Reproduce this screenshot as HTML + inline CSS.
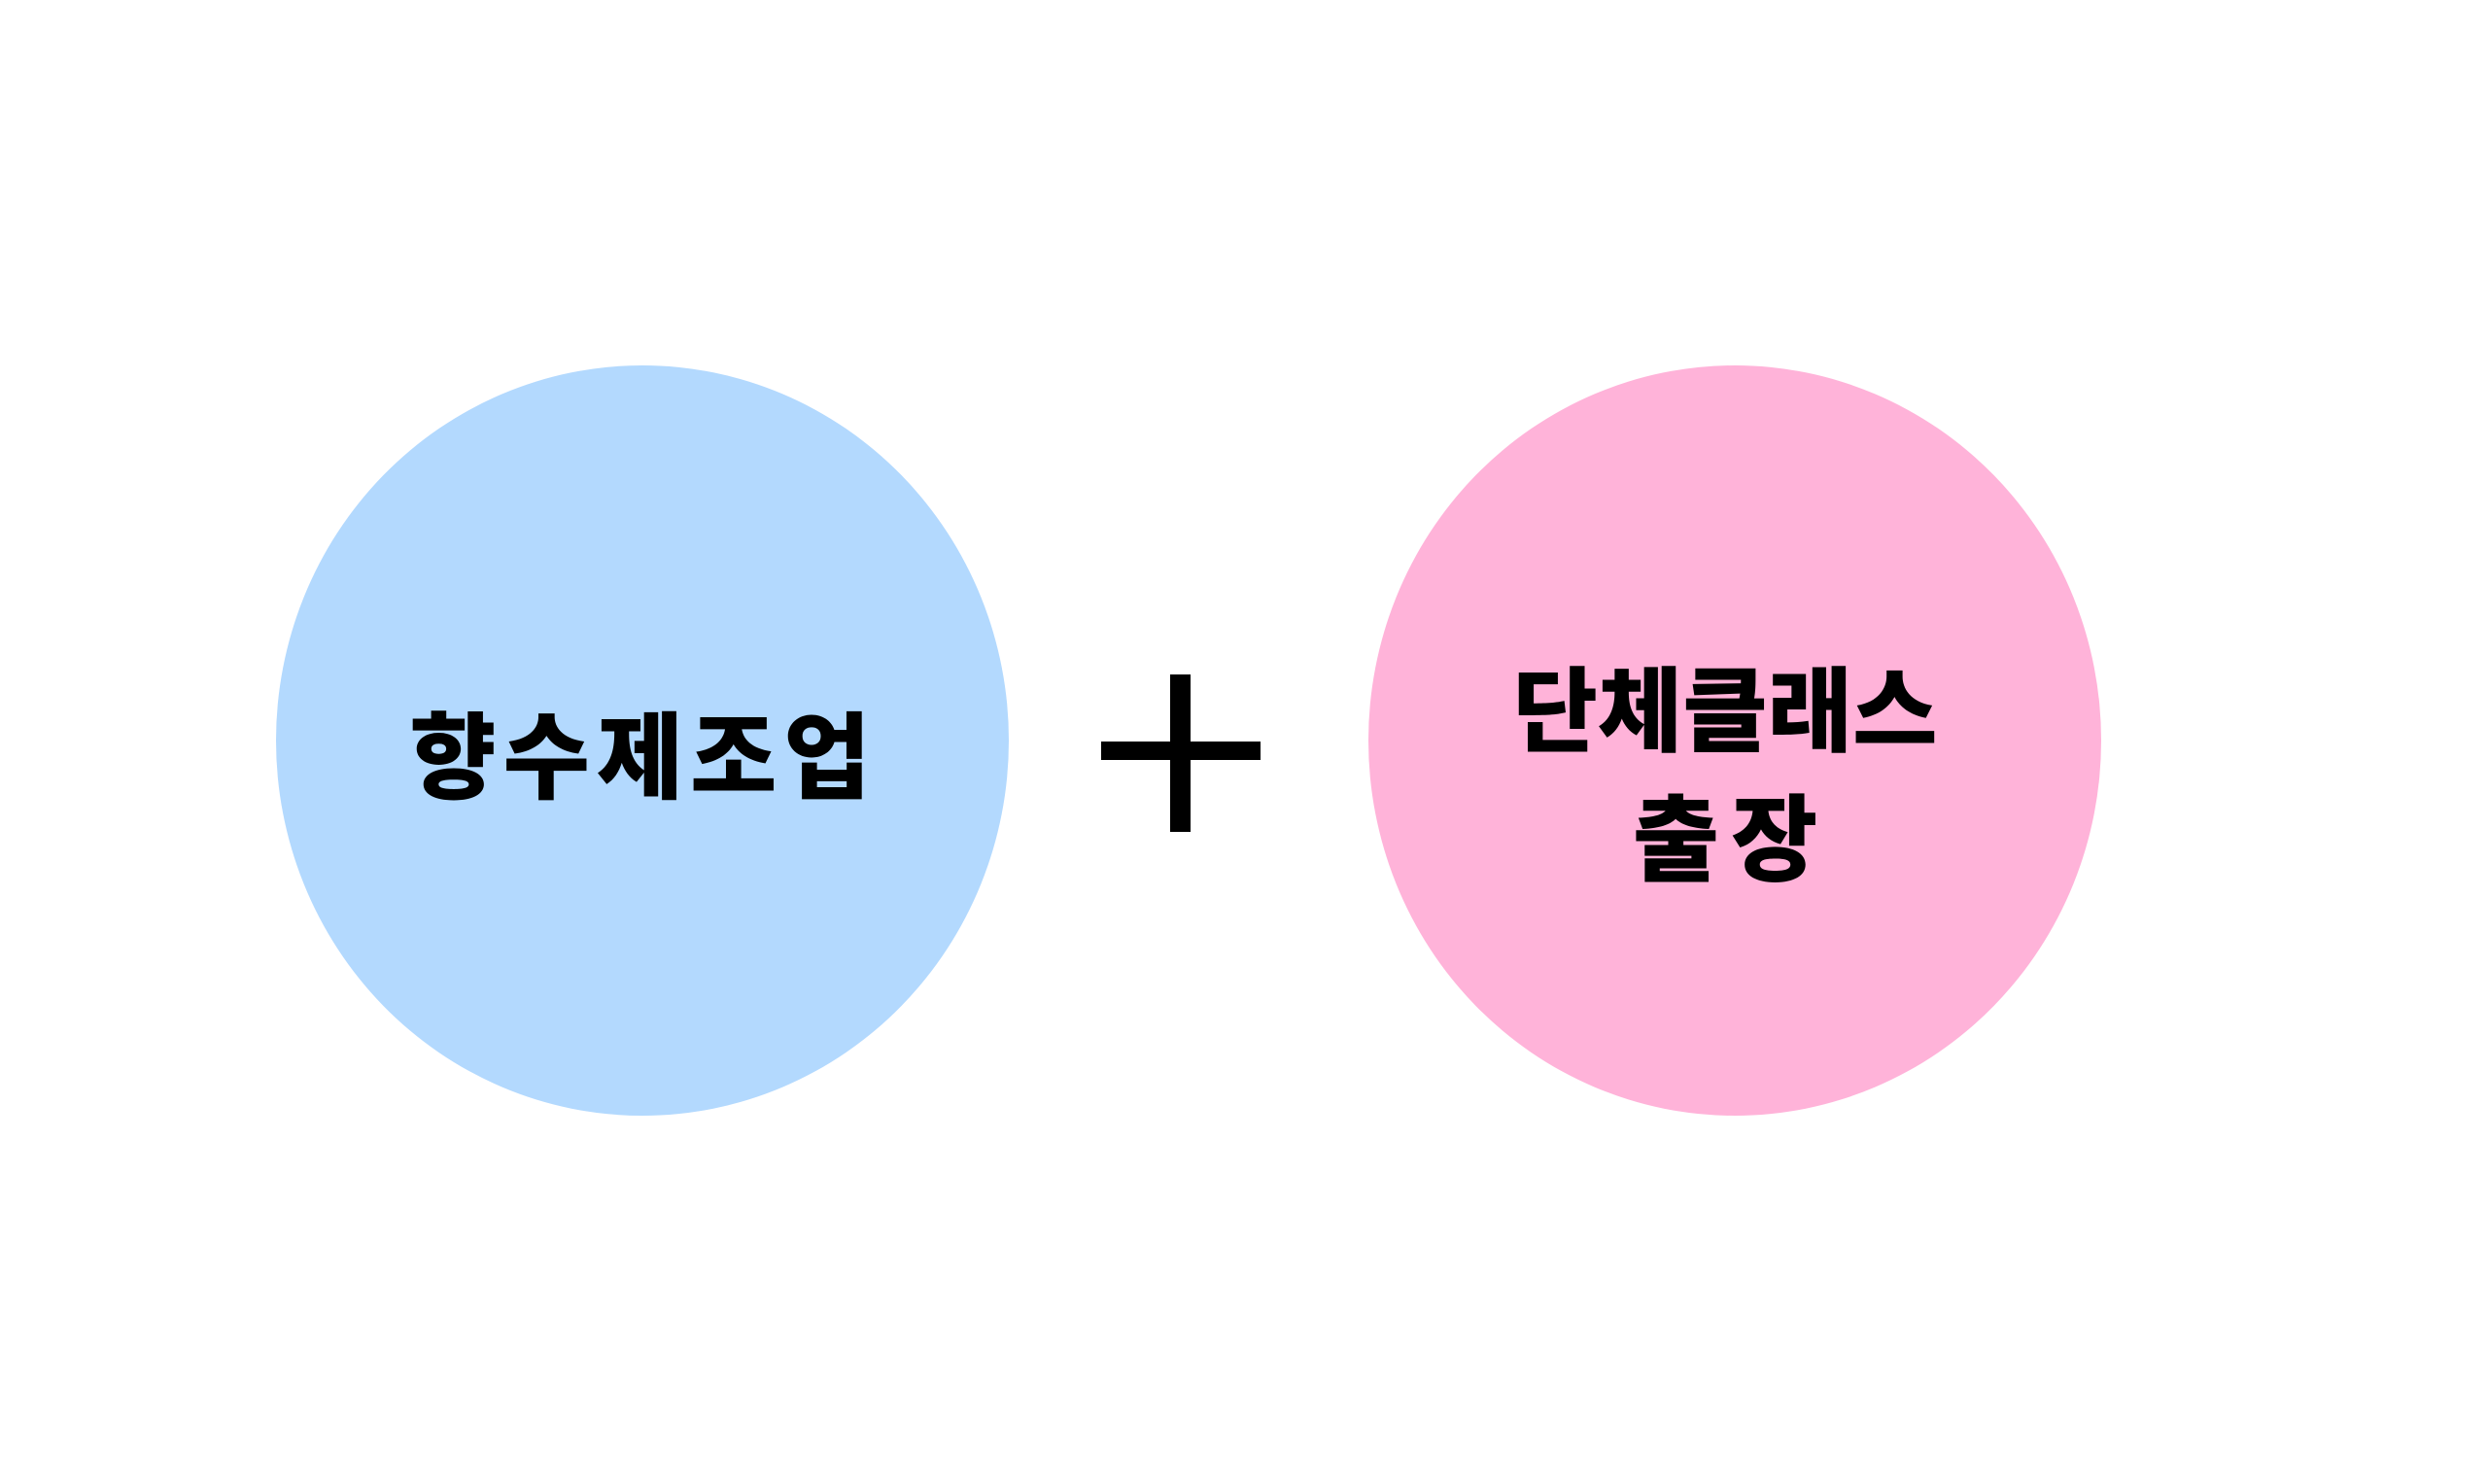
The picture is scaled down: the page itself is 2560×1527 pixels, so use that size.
<!DOCTYPE html>
<html><head><meta charset="utf-8"><style>
html,body{margin:0;padding:0;background:#fff;}
body{width:2560px;height:1527px;position:relative;overflow:hidden;font-family:"Liberation Sans","Noto Sans CJK KR","NanumGothic",sans-serif;}
.c{position:absolute;border-radius:50%;}
.t{position:absolute;font-weight:900;font-size:97px;color:#000;text-align:center;line-height:132px;white-space:nowrap;transform:translate(-50%,-50%);}
.b{position:absolute;background:#000;}
</style></head><body>
<div class="c" style="left:284px;top:376px;width:754px;height:772px;background:#b3d9fe;"></div>
<div class="c" style="left:1408px;top:376px;width:754px;height:772px;background:#ffb3d9;"></div>
<div class="t" style="left:662px;top:781px;letter-spacing:7px;">향수제조업</div>
<div class="t" style="left:1775px;top:799px;"><span style="font-size:95px;">단체클래스</span><br><span style="letter-spacing:12px;margin-left:12px;">출장</span></div>
<div class="b" style="left:1204px;top:694px;width:21px;height:162px;"></div>
<div class="b" style="left:1133px;top:763px;width:164px;height:19px;"></div>
</body></html>
